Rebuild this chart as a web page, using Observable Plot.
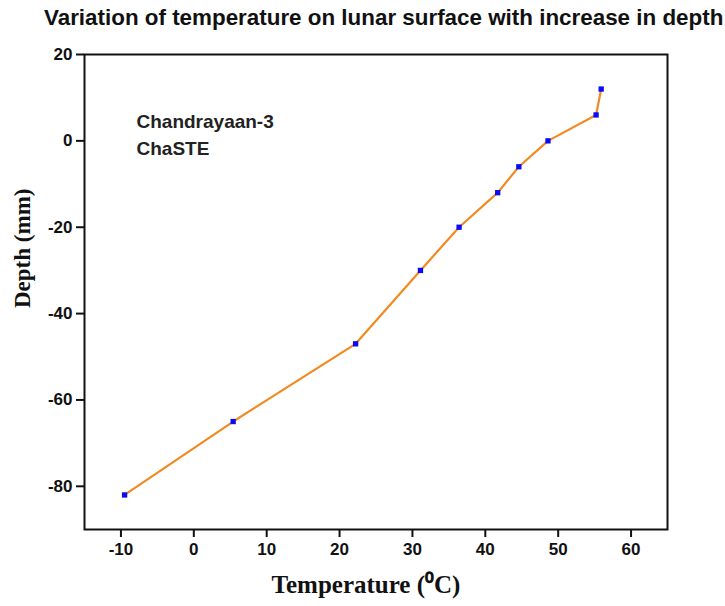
<!DOCTYPE html>
<html>
<head>
<meta charset="utf-8">
<script src="https://cdn.jsdelivr.net/npm/d3@7"></script>
<script src="https://cdn.jsdelivr.net/npm/@observablehq/plot@0.6"></script>
<style>
  body { margin: 0; background: #fff; }
  #wrap { position: relative; width: 725px; height: 606px; overflow: hidden; }
  #title {
    position: absolute; left: 44px; top: 4px; white-space: nowrap;
    font-family: "Liberation Sans", Arial, sans-serif; font-weight: bold;
    font-size: 22.4px; color: #111; line-height: 28px;
  }
  #chart { position: absolute; left: 0; top: 36px; }
</style>
</head>
<body>
<div id="wrap">
  <div id="title"></div>
  <div id="chart"></div>
</div>
<script>
const titleText = "Variation of temperature on lunar surface with increase in depth";
const temperature = [-9.5, 5.4, 22.2, 31.1, 36.4, 41.7, 44.6, 48.6, 55.2, 55.9];
const depth = [-82, -65, -47, -30, -20, -12, -6, 0, 6, 12];
const xTicks = [-10, 0, 10, 20, 30, 40, 50, 60];
const yTicks = [-80, -60, -40, -20, 0, 20];
const xLabel = "Temperature (\u2070C)";
const yLabel = "Depth (mm)";
const annotation = ["Chandrayaan-3\nChaSTE"];

document.getElementById("title").textContent = titleText;

const data = temperature.map((t, i) => ({t, d: depth[i]}));

const sans = "'Liberation Sans', Arial, sans-serif";
const serif = "'Liberation Serif', 'Times New Roman', serif";

const chart = Plot.plot({
  width: 725,
  height: 570,
  marginLeft: 84,
  marginRight: 58,
  marginTop: 18,
  marginBottom: 77,
  style: {fontFamily: sans, background: "#fff", color: "#111"},
  x: {domain: [-15, 65]},
  y: {domain: [-90, 20]},
  marks: [
    Plot.axisX({ticks: xTicks, tickFormat: d => String(d), tickSize: 8, tickPadding: 5, fontSize: 17, fontWeight: "bold", strokeWidth: 2, label: null}),
    Plot.axisY({ticks: yTicks, tickFormat: d => String(d), tickSize: 8, tickPadding: 4, fontSize: 17, fontWeight: "bold", strokeWidth: 2, label: null}),
    Plot.frame({stroke: "#111", strokeWidth: 2}),
    Plot.line(data, {x: "t", y: "d", stroke: "#f28a22", strokeWidth: 2.2}),
    Plot.dot(data, {x: "t", y: "d", symbol: "square", r: 3, fill: "#0a0af5", stroke: "none"}),
    Plot.text(annotation, {text: d => d, frameAnchor: "top-left", textAnchor: "start", lineAnchor: "top", dx: 52, dy: 54, fontSize: 19, lineHeight: 1.42, fontWeight: 600, fill: "#222"}),
    Plot.text([xLabel], {text: d => d, frameAnchor: "bottom", dx: -10, dy: 63, fontSize: 25, fontWeight: "bold", fontFamily: serif, fill: "#111"}),
    Plot.text([yLabel], {text: d => d, frameAnchor: "left", rotate: -90, dx: -62, dy: 16, fontSize: 23, fontWeight: "bold", fontFamily: serif, fill: "#111"})
  ]
});
document.getElementById("chart").appendChild(chart);
</script>
</body>
</html>
